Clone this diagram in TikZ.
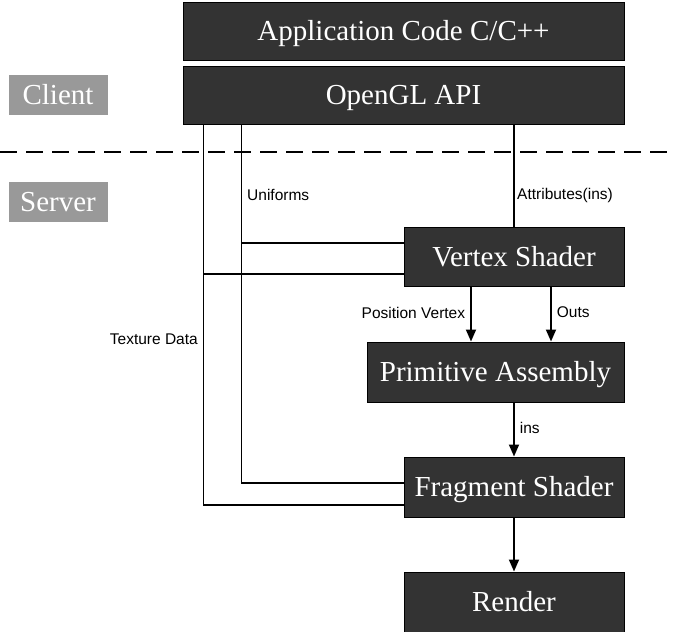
\documentclass[tikz,border=0pt]{standalone}
\usepackage{fontspec}
\setmainfont{Liberation Serif}
\newfontfamily\labfont{Liberation Sans}
\usetikzlibrary{arrows.meta,positioning,calc}
\definecolor{boxgray}{HTML}{333333}
\definecolor{taggray}{HTML}{999999}

\begin{document}
\begin{tikzpicture}[x=1pt, y=-1pt,
  >={Triangle[length=12pt,width=10pt]},
  box/.style={draw=black, line width=1pt, fill=boxgray, text=white, inner sep=0pt,
    text height=20pt, text depth=0.6pt,
    minimum width=220pt, minimum height=59pt, font=\fontsize{29}{32}\selectfont},
  tag/.style={fill=taggray, text=white, inner sep=0pt, minimum width=99pt, minimum height=40pt,
    text height=20pt, text depth=0.6pt, font=\fontsize{29}{32}\selectfont},
  lab/.style={font=\labfont\fontsize{15.5}{18}\selectfont, inner sep=0pt},
  wire/.style={line width=1.8pt},
  arr/.style={wire, ->}]
  \useasboundingbox (0,0) rectangle (673,632);
  % client side
  \node[box, minimum width=441pt, minimum height=58pt] (app) at (403.5,31) {Application Code C/C++};
  \node[box, minimum width=441pt, minimum height=58pt] (api) at (403.5,95) {OpenGL API};
  \node[tag] (client) at (58,95) {Client};
  % separator
  \coordinate (sepL) at (0,152);
  \coordinate (sepR) at (673,152);
  \draw[line width=2pt, dash pattern=on 17pt off 9pt] (sepL) -- (sepR);
  \node[tag] (server) at (58,202) {Server};
  % pipeline
  \node[box] (vs) at (514,257) {Vertex Shader};
  \node[box, minimum width=257pt, minimum height=60pt] (pa) at (495.5,372) {Primitive Assembly};
  \node[box, minimum height=60pt] (fs) at (514,487) {Fragment Shader};
  \node[box, minimum height=60pt] (render) at (514,602) {Render};
  % feeds from the API
  \coordinate (tex) at ([xshift=21pt]api.south west);
  \coordinate (uni) at ([xshift=59pt]api.south west);
  \draw[wire] (tex) |- ([yshift=-18pt]fs.west);
  \draw[wire] (uni) |- ([yshift=4pt]fs.west);
  \draw[wire] ([yshift=14pt]vs.west) -| (uni);
  \draw[wire] ([yshift=-17pt]vs.west) -| (tex);
  \draw[wire] (api.south -| vs.north) -- (vs.north);
  \node[lab, anchor=west] (uniL) at (247,195) {Uniforms};
  \node[lab, anchor=west] (attL) at (517,195) {Attributes(ins)};
  \node[lab, anchor=east] (texL) at (198,339) {Texture Data};
  % stage to stage
  \coordinate (pv) at ([xshift=-43pt]vs.south);
  \coordinate (outs) at ([xshift=37pt]vs.south);
  \draw[arr] (pv) -- (pv |- pa.north) node[lab, pos=0.47, left=5pt] (pvL) {Position Vertex};
  \draw[arr] (outs) -- (outs |- pa.north) node[lab, pos=0.47, right=5pt] (outsL) {Outs};
  \draw[arr] (pa.south -| fs.north) -- (fs.north) node[lab, pos=0.47, right=5pt] (insL) {ins};
  \draw[arr] (fs.south) -- (render.north);
\end{tikzpicture}
\end{document}
